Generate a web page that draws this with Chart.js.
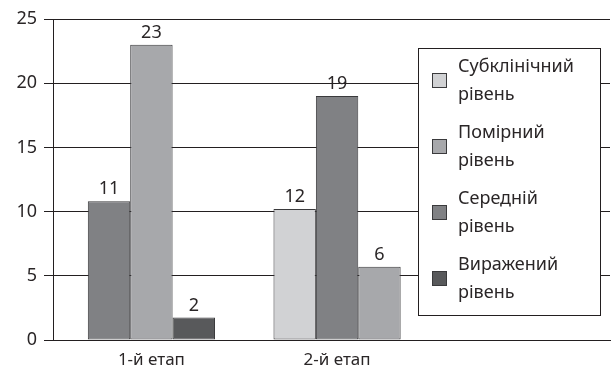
<!DOCTYPE html>
<html>
<head>
<meta charset="utf-8">
<script src="https://cdn.jsdelivr.net/npm/chart.js@4/dist/chart.umd.min.js"></script>
<style>
  html, body { margin: 0; padding: 0; background: #fff; }
  #wrap { width: 612px; height: 367px; }
</style>
</head>
<body>
<div id="wrap"><canvas id="levelsChart"></canvas></div>
<script>
// Stages on the x axis (third slot is left empty, the legend sits there)
const stages = ['1-й етап', '2-й етап', ''];

// Legend levels and their fills
const levelNames = [
    ['Субклінічний', 'рівень'],
    ['Помірний', 'рівень'],
    ['Середній', 'рівень'],
    ['Виражений', 'рівень']
];
const levelColors = ['#d1d2d4', '#a7a8ab', '#808184', '#58595b'];

// Bars by their place inside each group: height, printed label, level index
const slot1Values = [10.8, 10.2];
const slot1Labels = ['11', '12'];
const slot1Levels = [2, 0];

const slot2Values = [23, 19];
const slot2Labels = ['23', '19'];
const slot2Levels = [1, 2];

const slot3Values = [1.75, 5.7];
const slot3Labels = ['2', '6'];
const slot3Levels = [3, 1];

const yTicks = [0, 5, 10, 15, 20, 25];

const textColor = '#2a2627';
const fontFamily = '"Noto Sans", sans-serif';

function makeSlot(values, labels, levels) {
    return {
        data: values,
        valueLabels: labels,
        backgroundColor: levels.map(i => levelColors[i]),
        borderColor: '#3a3a3c',
        borderWidth: 1,
        borderSkipped: false,
        categoryPercentage: 0.685,
        barPercentage: 1.0
    };
}

// Print the value labels above each bar
const valueLabelsPlugin = {
    id: 'valueLabels',
    afterDatasetsDraw(chart) {
        const ctx = chart.ctx;
        ctx.save();
        ctx.fillStyle = textColor;
        ctx.font = '18px ' + fontFamily;
        ctx.textAlign = 'center';
        ctx.textBaseline = 'bottom';
        chart.data.datasets.forEach((ds, di) => {
            chart.getDatasetMeta(di).data.forEach((bar, i) => {
                if (ds.valueLabels[i] == null) return;
                ctx.fillText(ds.valueLabels[i], bar.x, bar.y - 3);
            });
        });
        ctx.restore();
    }
};

// Boxed two-line legend drawn over the right part of the plot
const boxLegendPlugin = {
    id: 'boxLegend',
    afterDraw(chart) {
        const ctx = chart.ctx;
        const area = chart.chartArea;
        const x0 = area.right - 192, y0 = area.top + 29;
        const w = 182, h = 267;
        ctx.save();
        ctx.fillStyle = '#fff';
        ctx.fillRect(x0, y0, w, h);
        ctx.strokeStyle = '#231f20';
        ctx.lineWidth = 1;
        ctx.strokeRect(x0 + 0.5, y0 + 0.5, w, h);
        ctx.font = '18px ' + fontFamily;
        ctx.textBaseline = 'middle';
        levelNames.forEach((lines, i) => {
            const cy = y0 + 32 + i * 66;
            ctx.fillStyle = levelColors[i];
            ctx.fillRect(x0 + 14, cy - 7, 15, 15);
            ctx.strokeStyle = '#3a3a3c';
            ctx.strokeRect(x0 + 14.5, cy - 6.5, 14, 14);
            ctx.fillStyle = textColor;
            ctx.fillText(lines[0], x0 + 40, cy - 13);
            ctx.fillText(lines[1], x0 + 40, cy + 15);
        });
        ctx.restore();
    }
};

new Chart(document.getElementById('levelsChart'), {
    type: 'bar',
    data: {
        labels: stages,
        datasets: [
            makeSlot(slot1Values, slot1Labels, slot1Levels),
            makeSlot(slot2Values, slot2Labels, slot2Levels),
            makeSlot(slot3Values, slot3Labels, slot3Levels)
        ]
    },
    options: {
        responsive: true,
        maintainAspectRatio: false,
        animation: false,
        layout: {
            padding: { top: 19, right: 2, left: 0, bottom: 0 }
        },
        plugins: {
            legend: { display: false },
            title: { display: false },
            tooltip: { enabled: false }
        },
        scales: {
            y: {
                min: 0,
                max: 25,
                afterBuildTicks: scale => { scale.ticks = yTicks.map(v => ({ value: v })); },
                afterFit: scale => { scale.width = 53; },
                grid: {
                    color: '#231f20',
                    lineWidth: 1,
                    tickLength: 9,
                    drawOnChartArea: true
                },
                border: { display: true, color: '#231f20', width: 1 },
                ticks: {
                    color: textColor,
                    font: { family: fontFamily, size: 18 },
                    padding: 7
                }
            },
            x: {
                // nudge the groups a little to the right, as in the original
                afterTickToLabelConversion: scale => { scale._startValue -= 0.03; },
                afterFit: scale => { scale.height = 27; },
                grid: { display: false },
                border: { display: true, color: '#231f20', width: 1 },
                ticks: {
                    color: textColor,
                    font: { family: fontFamily, size: 17 },
                    padding: 2,
                    maxRotation: 0
                }
            }
        }
    },
    plugins: [valueLabelsPlugin, boxLegendPlugin]
});
</script>
</body>
</html>
